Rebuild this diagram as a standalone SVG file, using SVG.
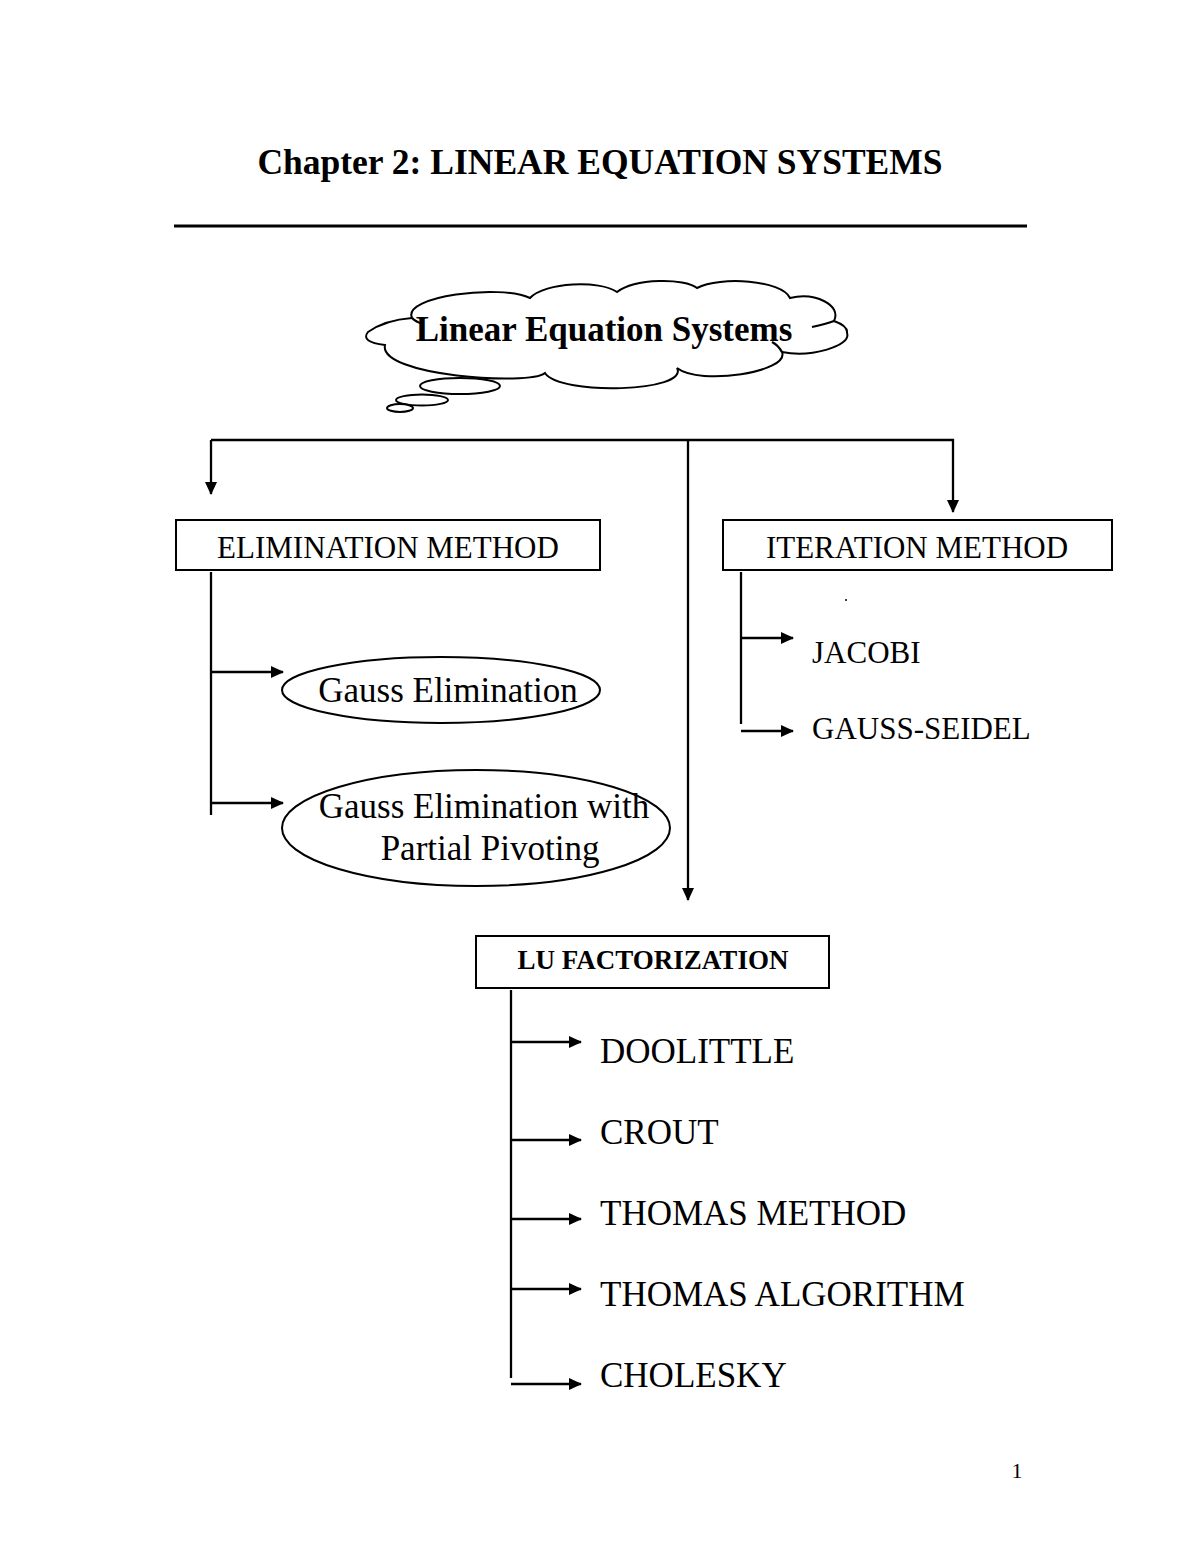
<svg xmlns="http://www.w3.org/2000/svg" width="1200" height="1553" viewBox="0 0 1200 1553">
<style>
.t{font-family:"Liberation Serif","Times New Roman",serif;fill:#000}
.b{font-weight:bold}
.s{fill:none;stroke:#000;stroke-width:2.3}
.box{fill:#fff;stroke:#000;stroke-width:2}
</style>
<defs>
<marker id="ah" markerWidth="13" markerHeight="12" refX="12" refY="6" orient="auto" markerUnits="userSpaceOnUse">
<path d="M0,0 L13,6 L0,12 Z" fill="#000"/>
</marker>
</defs>
<rect width="1200" height="1553" fill="#fff"/>
<text class="t b" x="600" y="174" font-size="35.5" text-anchor="middle">Chapter 2: LINEAR EQUATION SYSTEMS</text>
<line x1="174" y1="226" x2="1027" y2="226" stroke="#000" stroke-width="3"/>

<g id="cloud">
<path class="box" d="M368,332 Q385,320 412,318 C402,296 500,284 530,298 C545,282 600,280 617,292 C635,278 685,278 697,288 C720,276 782,280 790,298 C815,292 842,305 834,321 Q848,326 847,333 C852,346 810,358 782,352 C790,372 700,386 677,368 C690,392 560,396 545,373 C530,386 378,376 385,345 Q360,342 368,332 Z"/>
<path class="s" stroke-width="2" d="M412,318 Q416,322 423,324 M834,321 Q826,324 812,327 M782,352 Q778,345 772,342"/>
<ellipse class="box" cx="460" cy="386" rx="40" ry="8"/>
<ellipse class="box" cx="422" cy="400" rx="26" ry="5.5"/>
<ellipse class="box" cx="400" cy="408" rx="13" ry="4"/>
<text class="t b" x="604" y="341" font-size="35" text-anchor="middle">Linear Equation Systems</text>
</g>

<g id="connectors">
<path class="s" d="M211,440 L953,440 L953,512" marker-end="url(#ah)"/>
<line class="s" x1="211" y1="440" x2="211" y2="494" marker-end="url(#ah)"/>
<line class="s" x1="688" y1="440" x2="688" y2="900" marker-end="url(#ah)"/>
<line class="s" x1="211" y1="572" x2="211" y2="815"/>
<line class="s" x1="211" y1="672" x2="283" y2="672" marker-end="url(#ah)"/>
<line class="s" x1="211" y1="803" x2="283" y2="803" marker-end="url(#ah)"/>
<line class="s" x1="741" y1="572" x2="741" y2="724"/>
<line class="s" x1="741" y1="638" x2="793" y2="638" marker-end="url(#ah)"/>
<line class="s" x1="741" y1="731" x2="793" y2="731" marker-end="url(#ah)"/>
<line class="s" x1="511" y1="990" x2="511" y2="1378"/>
<line class="s" x1="511" y1="1042" x2="581" y2="1042" marker-end="url(#ah)"/>
<line class="s" x1="511" y1="1140" x2="581" y2="1140" marker-end="url(#ah)"/>
<line class="s" x1="511" y1="1219" x2="581" y2="1219" marker-end="url(#ah)"/>
<line class="s" x1="511" y1="1289" x2="581" y2="1289" marker-end="url(#ah)"/>
<line class="s" x1="511" y1="1384" x2="581" y2="1384" marker-end="url(#ah)"/>
</g>

<g id="elimination">
<rect class="box" x="176" y="520" width="424" height="50"/>
<text class="t" x="388" y="558" font-size="31" text-anchor="middle">ELIMINATION METHOD</text>
</g>
<g id="iteration">
<rect class="box" x="723" y="520" width="389" height="50"/>
<text class="t" x="917" y="558" font-size="31" text-anchor="middle">ITERATION METHOD</text>
</g>
<g id="gauss">
<ellipse class="box" cx="441" cy="690" rx="159" ry="33"/>
<text class="t" x="448" y="702" font-size="35" text-anchor="middle">Gauss Elimination</text>
</g>
<g id="gausspp">
<ellipse class="box" cx="476" cy="828" rx="194" ry="58"/>
<text class="t" x="484" y="818" font-size="35" text-anchor="middle">Gauss Elimination with</text>
<text class="t" x="490" y="860" font-size="35" text-anchor="middle">Partial Pivoting</text>
</g>
<circle cx="846" cy="600" r="1" fill="#000"/>
<g id="jacobi"><text class="t" x="812" y="663" font-size="31">JACOBI</text></g>
<g id="gaussseidel"><text class="t" x="812" y="739" font-size="31">GAUSS-SEIDEL</text></g>
<g id="lu">
<rect class="box" x="476" y="936" width="353" height="52"/>
<text class="t b" x="653" y="969" font-size="27" text-anchor="middle">LU FACTORIZATION</text>
</g>
<g id="doolittle"><text class="t" x="600" y="1063" font-size="35">DOOLITTLE</text></g>
<g id="crout"><text class="t" x="600" y="1144" font-size="35">CROUT</text></g>
<g id="thomasmethod"><text class="t" x="600" y="1225" font-size="35">THOMAS METHOD</text></g>
<g id="thomasalg"><text class="t" x="600" y="1306" font-size="35">THOMAS ALGORITHM</text></g>
<g id="cholesky"><text class="t" x="600" y="1387" font-size="35">CHOLESKY</text></g>
<text class="t" x="1017" y="1478" font-size="22" text-anchor="middle">1</text>
</svg>
